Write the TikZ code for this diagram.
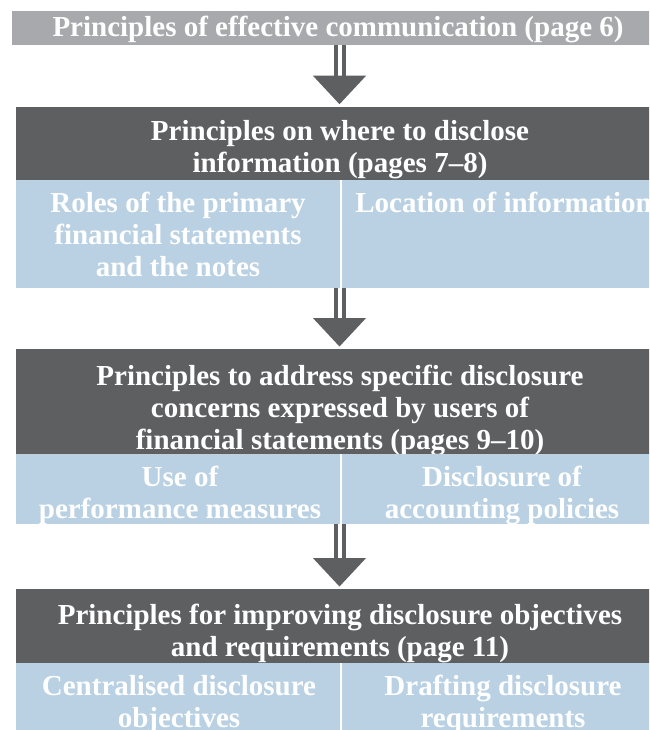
\documentclass[tikz,border=0pt]{standalone}
\usepackage{fontspec}
\setmainfont{Liberation Serif}
\usetikzlibrary{calc}
\definecolor{topgray}{HTML}{A7A9AC}
\definecolor{darkgray}{HTML}{5E5F61}
\definecolor{lightblue}{HTML}{B9D1E3}
\newcommand\sline[1]{\strut#1}
\newcommand\flowarrow[2]{%
  \draw[shaft] (#1.south -| 339.5,0) -- ($(#2.north -| 339.5,0)+(0,-31)$);
  \fill[head] ($(#2.north -| 339.5,0)+(-26.6,-31)$) -- ($(#2.north -| 339.5,0)+(26.6,-31)$) -- ($(#2.north -| 339.5,0)+(0,-2.5)$) -- cycle;}
\begin{document}
\begin{tikzpicture}[x=1pt,y=-1pt,
  box/.style={anchor=north west, inner sep=0pt, outer sep=0pt},
  topbar/.style={box, fill=topgray, minimum width=652pt, minimum height=34.5pt},
  darkbox/.style={box, fill=darkgray, minimum width=649pt},
  cellbox/.style={box, fill=lightblue},
  txt/.style={text=white, font=\fontsize{29}{32}\selectfont\bfseries, align=center, inner sep=0pt},
  shaft/.style={draw=darkgray, line width=4pt, double=white, double distance=4pt},
  head/.style={fill=darkgray}]
\useasboundingbox (0,0) rectangle (649,730);
\clip (0,0) rectangle (649,730);
\fill[white] (0,0) rectangle (649,730);
% top bar
\node[topbar] (t0) at (12,11) {};
\node[txt] (t0t) at (338,30.5) {\sline{Principles of effective communication (page 6)}};
% block 1
\node[darkbox, minimum height=73.3pt] (d1) at (16,106.7) {};
\node[txt] (d1t) at (340,150.3) {\sline{Principles on where to disclose}\\\sline{information (pages 7--8)}};
\node[cellbox, minimum width=324pt, minimum height=107.5pt] (l1a) at (16,180) {};
\node[cellbox, minimum width=323pt, minimum height=107.5pt] (l1b) at (342,180) {};
\node[txt] (l1at) at (178,238.1) {\sline{Roles of the primary}\\\sline{financial statements}\\\sline{and the notes}};
\node[txt] (l1bt) at (503.5,206.1) {\sline{Location of information}};
% block 2
\node[darkbox, minimum height=105.3pt] (d2) at (16,349) {};
\node[txt] (d2t) at (340,411.1) {\sline{Principles to address specific disclosure}\\\sline{concerns expressed by users of}\\\sline{financial statements (pages 9--10)}};
\node[cellbox, minimum width=324pt, minimum height=70pt] (l2a) at (16,454.3) {};
\node[cellbox, minimum width=323pt, minimum height=70pt] (l2b) at (342,454.3) {};
\node[txt] (l2at) at (180,495.6) {\sline{Use of}\\\sline{performance measures}};
\node[txt] (l2bt) at (502,495.6) {\sline{Disclosure of}\\\sline{accounting policies}};
% block 3
\node[darkbox, minimum height=73.7pt] (d3) at (16,589) {};
\node[txt] (d3t) at (340,633.9) {\sline{Principles for improving disclosure objectives}\\\sline{and requirements (page 11)}};
\node[cellbox, minimum width=324pt, minimum height=70pt] (l3a) at (16,662.7) {};
\node[cellbox, minimum width=323pt, minimum height=70pt] (l3b) at (342,662.7) {};
\node[txt] (l3at) at (179,704.6) {\sline{Centralised disclosure}\\\sline{objectives}};
\node[txt] (l3bt) at (503,704.6) {\sline{Drafting disclosure}\\\sline{requirements}};
% arrows
\flowarrow{t0}{d1}
\flowarrow{l1a}{d2}
\flowarrow{l2a}{d3}
\end{tikzpicture}
\end{document}
